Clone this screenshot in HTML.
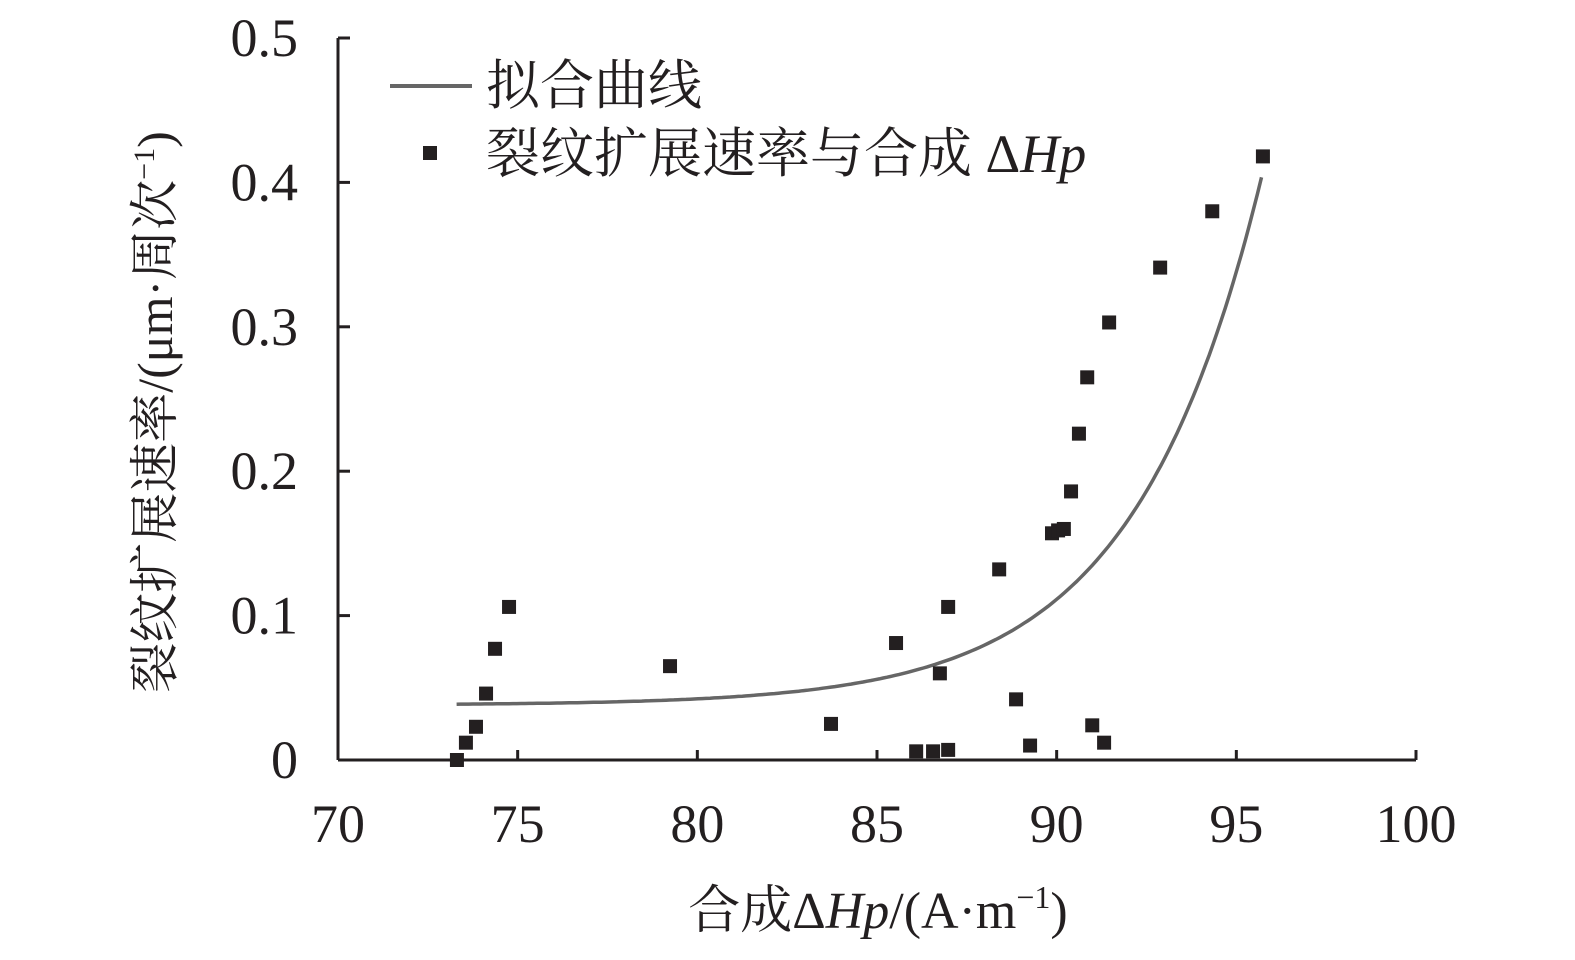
<!DOCTYPE html>
<html><head><meta charset="utf-8"><style>
body{margin:0;background:#fff;}
svg text{font-family:"Liberation Serif","Noto Serif CJK SC",serif;fill:#231f20;}
</style></head><body>
<svg id="chart" width="1575" height="955" viewBox="0 0 1575 955">
<g id="axes"></g>
<g id="curve"></g>
<g id="pts"></g>
<g>
<line x1="390" y1="86" x2="472" y2="86" stroke="#666" stroke-width="4"/>
<text x="486" y="104" font-size="54">拟合曲线</text>
<rect x="423" y="146" width="14" height="14" fill="#231f20"/>
<text x="486" y="172" font-size="54">裂纹扩展速率与合成 Δ<tspan font-style="italic">Hp</tspan></text>
</g>
<text x="878" y="928" font-size="52" text-anchor="middle">合成Δ<tspan font-style="italic">Hp</tspan>/(A·m<tspan font-size="32" dy="-20">−1</tspan><tspan dy="20">)</tspan></text>
<text transform="translate(172,412) rotate(-90)" font-size="50" text-anchor="middle">裂纹扩展速率/(μm·周次<tspan font-size="30" dy="-18">−1</tspan><tspan dy="18">)</tspan></text>
</svg>
<script>
const xTicks=[70,75,80,85,90,95,100];
const yTicks=[0,0.1,0.2,0.3,0.4,0.5];
const yTickLabels=["0","0.1","0.2","0.3","0.4","0.5"];
const ptX=[73.31,73.56,73.84,74.12,74.37,74.76,79.24,83.72,85.53,86.09,86.56,86.98,86.75,86.98,88.40,88.87,89.26,89.87,90.04,90.2,90.40,90.62,90.85,90.99,91.32,91.46,92.88,94.33,95.74];
const ptY=[0.0,0.012,0.023,0.046,0.077,0.106,0.065,0.025,0.081,0.006,0.006,0.007,0.060,0.106,0.132,0.042,0.010,0.157,0.159,0.160,0.186,0.226,0.265,0.024,0.012,0.303,0.341,0.380,0.418];
const fitA=0.038, fitB=0.00066, fitC=0.282, fitX0=73.3, fitX1=95.7;
const NS="http://www.w3.org/2000/svg";
const X=v=>338+(v-70)*(1416-338)/30;
const Y=v=>760-v*(760-38)/0.5;
function mk(tag,attrs,parent){const e=document.createElementNS(NS,tag);for(const k in attrs)e.setAttribute(k,attrs[k]);parent.appendChild(e);return e;}
const ax=document.getElementById('axes');
let e=mk('line',{x1:338,y1:760,x2:1416,y2:760,stroke:'#231f20','stroke-width':3},ax);


e=mk('line',{x1:338,y1:38,x2:338,y2:760,stroke:'#231f20','stroke-width':3},ax);


xTicks.forEach(t=>{
 const tk=mk('line',{x1:X(t),y1:760,x2:X(t),y2:750,stroke:'#231f20','stroke-width':3},ax);
 
 
 const tl=mk('text',{x:X(t),y:842,'font-size':54,'text-anchor':'middle'},ax);
 tl.textContent=t;
 
 
});
yTicks.forEach((t,i)=>{
 const tk=mk('line',{x1:338,y1:Y(t),x2:350,y2:Y(t),stroke:'#231f20','stroke-width':3},ax);
 
 
 const tl=mk('text',{x:298,y:Y(t)+18,'font-size':54,'text-anchor':'end'},ax);
 tl.textContent=yTickLabels[i];
 
 
});
let d='';
for(let i=0;i<=200;i++){const x=fitX0+(fitX1-fitX0)*i/200;const y=fitA+fitB*Math.exp(fitC*(x-fitX0));d+=(i?'L':'M')+X(x).toFixed(1)+' '+Y(y).toFixed(1);}
const p=mk('path',{d:d,fill:'none',stroke:'#666','stroke-width':3.5},document.getElementById('curve'));


const pg=document.getElementById('pts');
ptX.forEach((x,i)=>{
 const r=mk('rect',{x:X(x)-7,y:Y(ptY[i])-7,width:14,height:14,fill:'#231f20'},pg);
 
 
});
</script>
</body></html>
